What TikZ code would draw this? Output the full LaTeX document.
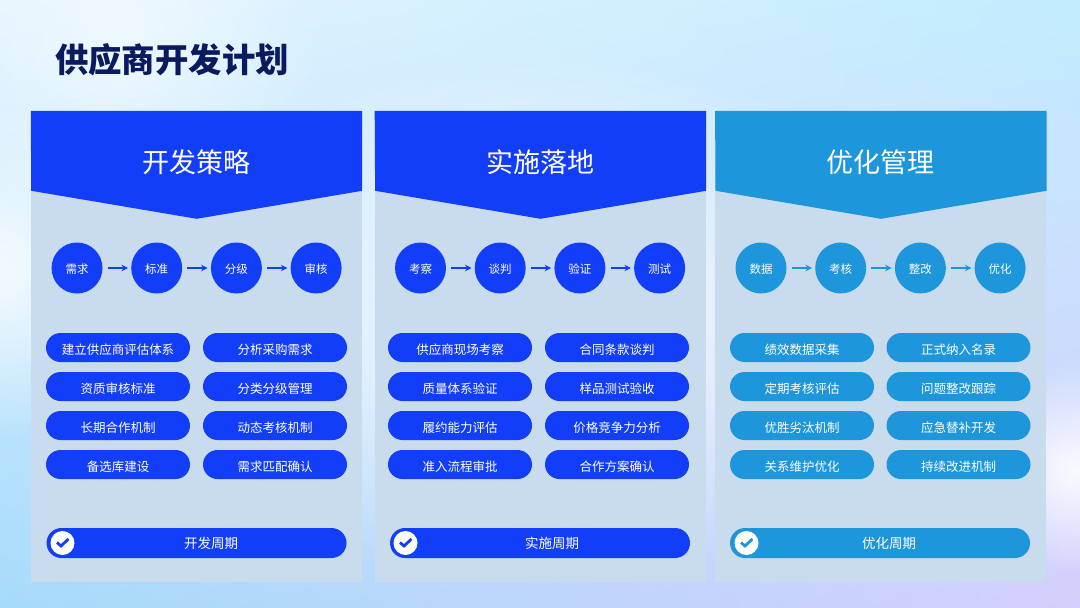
\documentclass[tikz,border=0pt]{standalone}
\usepackage{fontspec}
\setmainfont{Noto Sans CJK SC}
\usepackage{tikz}
\usetikzlibrary{arrows.meta, positioning, fadings, shadings}
\definecolor{deepblue}{HTML}{123EFA}
\definecolor{skyblue}{HTML}{1E96DC}
\definecolor{panelgray}{HTML}{C9DCEE}
\definecolor{titleblue}{HTML}{0A1A5E}
\definecolor{bgtopleft}{HTML}{E4F4FE}
\definecolor{bgtopright}{HTML}{C2ECFE}
\definecolor{bgbotleft}{HTML}{A6DBFB}
\definecolor{bgbotright}{HTML}{D4CFFC}
\tikzfading[name=softspot, inner color=transparent!0, outer color=transparent!100]
\tikzstyle{panel} = [rectangle, fill=panelgray, minimum width=331pt, minimum height=471pt, inner sep=0pt]
\tikzstyle{stage} = [circle, minimum size=51pt, inner sep=0pt, text=white, text height=11pt, text depth=1pt, font=\fontsize{11.5}{12}\selectfont]
\tikzstyle{pill} = [rectangle, rounded corners=14.5pt, minimum width=144pt, minimum height=29pt, inner sep=0pt, text=white, text height=15pt, text depth=1.5pt, font=\fontsize{12.5}{13}\selectfont]
\tikzstyle{bar} = [rectangle, rounded corners=15pt, minimum width=300pt, minimum height=30pt, inner sep=0pt, text=white, text height=13pt, text depth=1.5pt, font=\fontsize{13.5}{14}\selectfont]
\tikzstyle{head} = [text=white, font=\fontsize{27}{28}\selectfont]
\tikzstyle{arrow} = [line width=1.5pt,-{Stealth[length=6.5pt,width=6.5pt]},shorten >=3pt,shorten <=5pt]
\tikzset{check/.style={circle, fill=white, minimum size=24pt, inner sep=0pt, path picture={
    \draw [#1, line width=2.8pt] ([shift={(-5.5pt,0.5pt)}]path picture bounding box.center) -- ([shift={(-1.5pt,-3pt)}]path picture bounding box.center) -- ([shift={(6pt,4pt)}]path picture bounding box.center);}}}
\begin{document}
\begin{tikzpicture}[x=1pt,y=-1pt,node distance=79.7pt]

    % background
    \shade [upper left=bgtopleft, upper right=bgtopright, lower left=bgbotleft, lower right=bgbotright] (0,0) rectangle (1080,608);
    \begin{scope}
    \clip (0,0) rectangle (1080,608);
    \fill [white, path fading=softspot, fill opacity=0.85] (540,320) ellipse (430 and 270);
    \fill [white, path fading=softspot, fill opacity=0.9] (1075,470) circle (105);
    \fill [white, path fading=softspot, fill opacity=0.8] (0,270) circle (170);
    \fill [white, path fading=softspot, fill opacity=0.5] (120,40) circle (200);
    \end{scope}
    \useasboundingbox (0,0) rectangle (1080,608);

    \node (title) [anchor=west, text=titleblue, font=\fontsize{33.4}{34}\selectfont\bfseries] at (51.5,59.5) {供应商开发计划};

    % panels
    \node (panelA) [panel] at (196.5,346.5) {};
    \node (panelB) [panel, right=12.5pt of panelA] {};
    \node (panelC) [panel, right=9pt of panelB] {};

    \fill [deepblue] (panelA.north west) -- (panelA.north east) -- ++(0,80) -- ++(-165.5,28) -- ++(-165.5,-28) -- cycle;
    \fill [deepblue] (panelB.north west) -- (panelB.north east) -- ++(0,80) -- ++(-165.5,28) -- ++(-165.5,-28) -- cycle;
    \fill [skyblue] (panelC.north west) -- (panelC.north east) -- ++(0,80) -- ++(-165.5,28) -- ++(-165.5,-28) -- cycle;

    \node (headA) [head] at (196.5,162) {开发策略};
    \node (headB) [head] at (540.5,162) {实施落地};
    \node (headC) [head] at (880.5,162) {优化管理};

    % first column
    \node (a1) [stage, fill=deepblue] at (77,268) {需求};
    \node (a2) [stage, fill=deepblue, right of=a1] {标准};
    \node (a3) [stage, fill=deepblue, right of=a2] {分级};
    \node (a4) [stage, fill=deepblue, right of=a3] {审核};
    \draw [arrow, deepblue] (a1) -- (a2);
    \draw [arrow, deepblue] (a2) -- (a3);
    \draw [arrow, deepblue] (a3) -- (a4);

    \begin{scope}[node distance=39pt]
    \node (a5) [pill, fill=deepblue] at (118,347.5) {建立供应商评估体系};
    \node (a6) [pill, fill=deepblue, below of=a5] {资质审核标准};
    \node (a7) [pill, fill=deepblue, below of=a6] {长期合作机制};
    \node (a8) [pill, fill=deepblue, below of=a7] {备选库建设};
    \node (a9) [pill, fill=deepblue] at (275,347.5) {分析采购需求};
    \node (a10) [pill, fill=deepblue, below of=a9] {分类分级管理};
    \node (a11) [pill, fill=deepblue, below of=a10] {动态考核机制};
    \node (a12) [pill, fill=deepblue, below of=a11] {需求匹配确认};
    \end{scope}

    \node (barA) [bar, fill=deepblue] at (196.5,543) {\hspace*{29pt}开发周期};
    \node (checkA) [check=deepblue] at (62.5,543) {};

    % second column
    \node (b1) [stage, fill=deepblue] at (420.5,268) {考察};
    \node (b2) [stage, fill=deepblue, right of=b1] {谈判};
    \node (b3) [stage, fill=deepblue, right of=b2] {验证};
    \node (b4) [stage, fill=deepblue, right of=b3] {测试};
    \draw [arrow, deepblue] (b1) -- (b2);
    \draw [arrow, deepblue] (b2) -- (b3);
    \draw [arrow, deepblue] (b3) -- (b4);

    \begin{scope}[node distance=39pt]
    \node (b5) [pill, fill=deepblue] at (460,347.5) {供应商现场考察};
    \node (b6) [pill, fill=deepblue, below of=b5] {质量体系验证};
    \node (b7) [pill, fill=deepblue, below of=b6] {履约能力评估};
    \node (b8) [pill, fill=deepblue, below of=b7] {准入流程审批};
    \node (b9) [pill, fill=deepblue] at (617,347.5) {合同条款谈判};
    \node (b10) [pill, fill=deepblue, below of=b9] {样品测试验收};
    \node (b11) [pill, fill=deepblue, below of=b10] {价格竞争力分析};
    \node (b12) [pill, fill=deepblue, below of=b11] {合作方案确认};
    \end{scope}

    \node (barB) [bar, fill=deepblue] at (540,543) {\hspace*{24pt}实施周期};
    \node (checkB) [check=deepblue] at (405.5,543) {};

    % third column
    \node (c1) [stage, fill=skyblue] at (761,268) {数据};
    \node (c2) [stage, fill=skyblue, right of=c1] {考核};
    \node (c3) [stage, fill=skyblue, right of=c2] {整改};
    \node (c4) [stage, fill=skyblue, right of=c3] {优化};
    \draw [arrow, skyblue] (c1) -- (c2);
    \draw [arrow, skyblue] (c2) -- (c3);
    \draw [arrow, skyblue] (c3) -- (c4);

    \begin{scope}[node distance=39pt]
    \node (c5) [pill, fill=skyblue] at (802,347.5) {绩效数据采集};
    \node (c6) [pill, fill=skyblue, below of=c5] {定期考核评估};
    \node (c7) [pill, fill=skyblue, below of=c6] {优胜劣汰机制};
    \node (c8) [pill, fill=skyblue, below of=c7] {关系维护优化};
    \node (c9) [pill, fill=skyblue] at (958.5,347.5) {正式纳入名录};
    \node (c10) [pill, fill=skyblue, below of=c9] {问题整改跟踪};
    \node (c11) [pill, fill=skyblue, below of=c10] {应急替补开发};
    \node (c12) [pill, fill=skyblue, below of=c11] {持续改进机制};
    \end{scope}

    \node (barC) [bar, fill=skyblue] at (880,543) {\hspace*{18pt}优化周期};
    \node (checkC) [check=skyblue] at (746.5,543) {};

\end{tikzpicture}
\end{document}
